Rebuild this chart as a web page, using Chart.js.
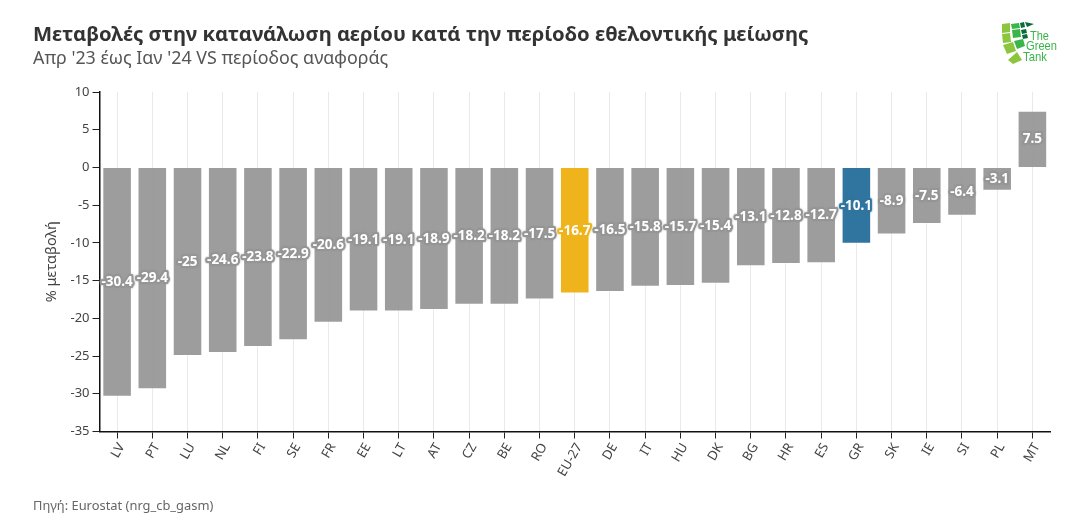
<!DOCTYPE html>
<html lang="el">
<head>
<meta charset="utf-8">
<script src="https://cdn.jsdelivr.net/npm/chart.js@4/dist/chart.umd.min.js"></script>
<style>
  html, body { margin: 0; padding: 0; background: #fff; }
  body { width: 1085px; height: 520px; position: relative; overflow: hidden; font-family: 'Noto Sans', sans-serif; }
  #chart { position: absolute; left: 0; top: 0; }
  .title { position: absolute; left: 33px; top: 19px; font-size: 20.25px; line-height: 28px; font-weight: 700; color: #333; white-space: nowrap; }
  .subtitle { position: absolute; left: 33px; top: 45px; font-size: 17.85px; line-height: 24px; color: #555; white-space: nowrap; }
  .source { position: absolute; left: 33px; top: 496px; font-size: 12.9px; line-height: 18px; color: #666; white-space: nowrap; }
  #logo { position: absolute; left: 996px; top: 18px; }
</style>
</head>
<body>
<canvas id="chart" width="1085" height="520"></canvas>
<div class="title">Μεταβολές στην κατανάλωση αερίου κατά την περίοδο εθελοντικής μείωσης</div>
<div class="subtitle">Απρ '23 έως Ιαν '24 VS περίοδος αναφοράς</div>
<div class="source">Πηγή: Eurostat (nrg_cb_gasm)</div>
<svg id="logo" width="70" height="50" viewBox="0 0 70 50">
  <g fill="#8cc63f">
    <path d="M6 6 L14 5 L14 14 L6 15 Z"/>
    <path d="M6 16 L14 15 L15 24 L7 25 Z"/>
    <path d="M7 27 L17 24 L20 33 L11 36 Z"/>
    <path d="M12 42 L21 34 L26 42 L17 46 Z"/>
  </g>
  <g fill="#39b54a">
    <path d="M15 6 L23 5 L24 10 L16 11 Z"/>
    <path d="M16 12 L24 11 L25 19 L17 20 Z"/>
    <path d="M18 23 L27 21 L29 28 L21 31 Z"/>
  </g>
  <g fill="#0b6b3a">
    <path d="M24 5 L28 4 L29 9 L25 10 Z"/>
    <path d="M25 12 L30 11 L31 15 L26 16 Z"/>
    <path d="M26 17 L31 16 L32 20 L27 21 Z"/>
    <path d="M29 4 L38 6 L31 9 Z"/>
  </g>
  <g fill="#39b54a" font-family="'Liberation Sans',sans-serif" font-size="13.5">
    <text x="34" y="21.5" textLength="19" lengthAdjust="spacingAndGlyphs">The</text>
    <text x="30" y="32" textLength="31" lengthAdjust="spacingAndGlyphs">Green</text>
    <text x="27" y="43" textLength="24" lengthAdjust="spacingAndGlyphs">Tank</text>
  </g>
</svg>
<script>
const categories = ['LV', 'PT', 'LU', 'NL', 'FI', 'SE', 'FR', 'EE', 'LT', 'AT', 'CZ', 'BE', 'RO', 'EU-27', 'DE', 'IT', 'HU', 'DK', 'BG', 'HR', 'ES', 'GR', 'SK', 'IE', 'SI', 'PL', 'MT'];
const changes = [-30.4, -29.4, -25, -24.6, -23.8, -22.9, -20.6, -19.1, -19.1, -18.9, -18.2, -18.2, -17.5, -16.7, -16.5, -15.8, -15.7, -15.4, -13.1, -12.8, -12.7, -10.1, -8.9, -7.5, -6.4, -3.1, 7.5];
const yTicks = [10, 5, 0, -5, -10, -15, -20, -25, -30, -35];

const GREY = 'rgba(150,150,150,0.93)';
const barColors = categories.map(function (c) {
    if (c === 'EU-27') return '#efb41c';
    if (c === 'GR') return '#30759f';
    return GREY;
});
// halo behind the value labels, same tone as the bar
const haloColors = categories.map(function (c) {
    if (c === 'EU-27') return '#efb41c';
    if (c === 'GR') return '#30759f';
    return '#959595';
});

// value labels centred in each bar
const valueLabels = {
    id: 'valueLabels',
    afterDatasetsDraw(chart) {
        const ctx = chart.ctx;
        const meta = chart.getDatasetMeta(0);
        ctx.save();
        ctx.font = "700 13.5px 'Noto Sans', sans-serif";
        ctx.textAlign = 'center';
        ctx.textBaseline = 'middle';
        ctx.lineJoin = 'round';
        meta.data.forEach(function (bar, i) {
            const y = (bar.y + bar.base) / 2;
            const text = String(changes[i]);
            ctx.lineWidth = 4;
            ctx.strokeStyle = haloColors[i];
            ctx.shadowColor = haloColors[i];
            ctx.shadowBlur = 2;
            ctx.strokeText(text, bar.x, y);
            ctx.shadowBlur = 0;
            ctx.fillStyle = '#fff';
            ctx.fillText(text, bar.x, y);
        });
        ctx.restore();
    },
};

new Chart(document.getElementById('chart'), {
    type: 'bar',
    data: {
        labels: categories,
        datasets: [
            {
                data: changes,
                backgroundColor: barColors,
                borderColor: 'rgba(255,255,255,0.4)',
                borderWidth: 1,
                barPercentage: 0.84,
                categoryPercentage: 1,
            },
        ],
    },
    options: {
        responsive: false,
        animation: false,
        layout: { padding: { left: 0, right: 35, top: 92, bottom: 0 } },
        plugins: {
            legend: { display: false },
            title: { display: false },
            tooltip: { enabled: false },
        },
        scales: {
            x: {
                position: 'bottom',
                afterFit(scale) { scale.height = 88.5; },
                grid: {
                    color: '#e9e9e9',
                    offset: false,
                    drawTicks: true,
                    tickLength: 7,
                    tickColor: '#222',
                },
                border: { color: '#111', width: 1.5 },
                ticks: {
                    color: '#444',
                    font: { family: "'Noto Sans', sans-serif", size: 13 },
                    minRotation: 60,
                    maxRotation: 60,
                    autoSkip: false,
                    padding: 2,
                    labelOffset: 4.5,
                },
            },
            y: {
                min: -35,
                max: 10,
                afterFit(scale) { scale.width = 99.5; },
                afterBuildTicks(scale) { scale.ticks = yTicks.map(function (v) { return { value: v }; }); },
                grid: { display: true, drawOnChartArea: false, tickLength: 7, tickColor: '#222' },
                border: { color: '#111', width: 1.5 },
                ticks: {
                    color: '#444',
                    font: { family: "'Noto Sans', sans-serif", size: 13 },
                    padding: 3,
                },
                title: {
                    display: true,
                    text: '% μεταβολή',
                    color: '#444',
                    font: { family: "'Noto Sans', sans-serif", size: 14.5 },
                    padding: { top: 43, bottom: 0 },
                },
            },
        },
    },
    plugins: [valueLabels],
});
</script>
</body>
</html>
